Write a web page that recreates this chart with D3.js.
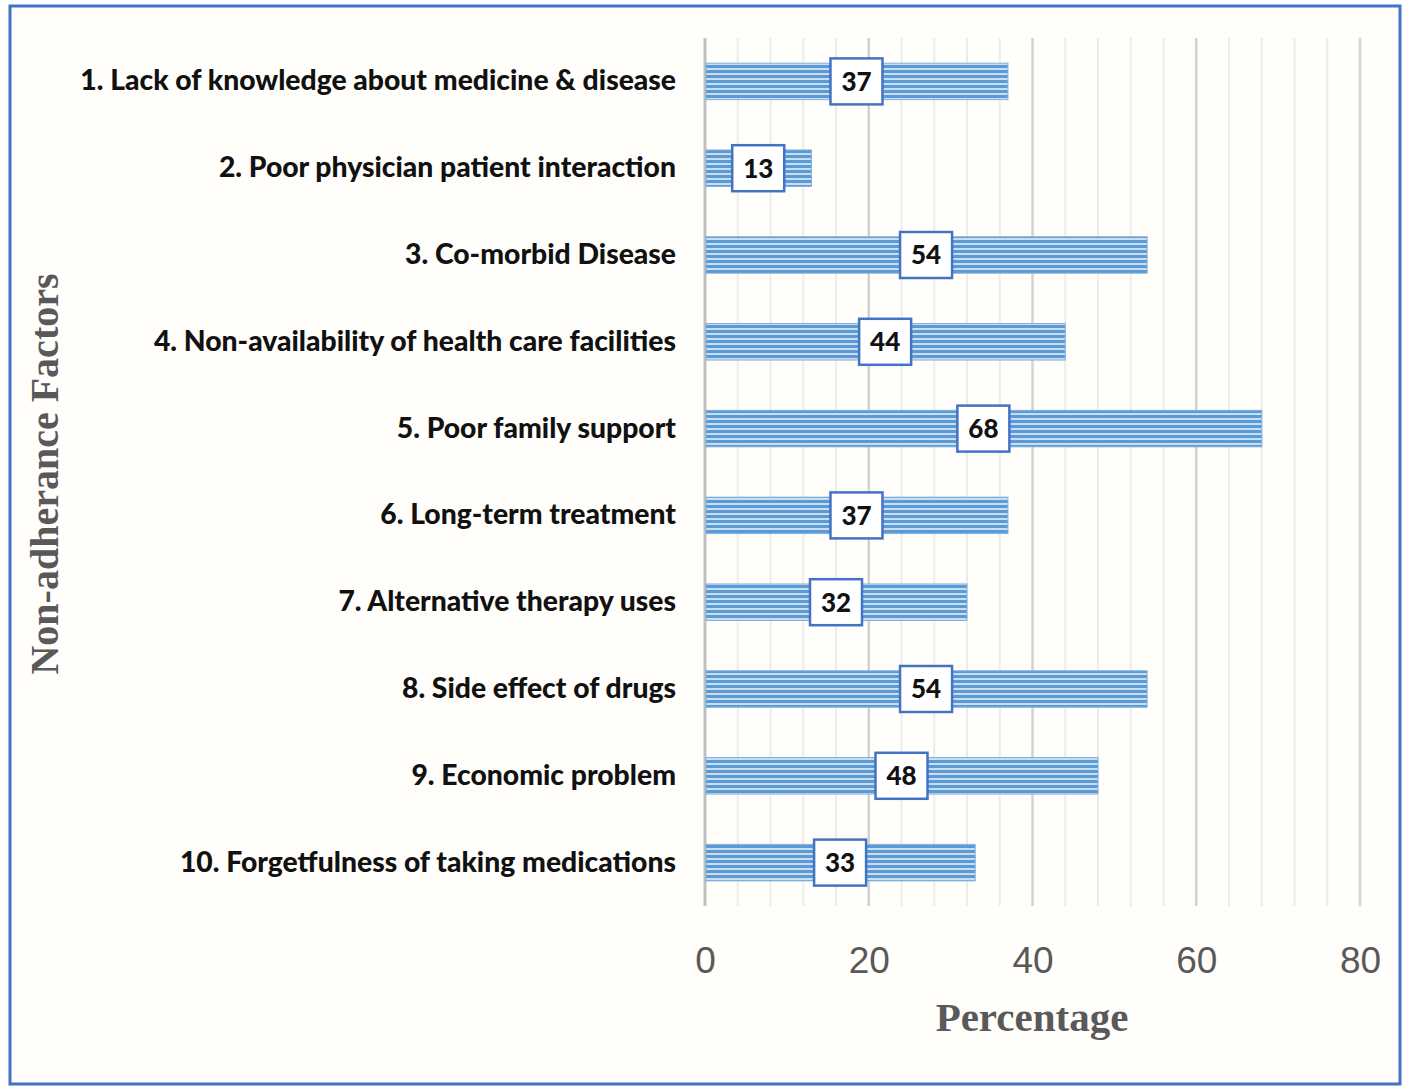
<!DOCTYPE html>
<html>
<head>
<meta charset="utf-8">
<script src="https://cdn.jsdelivr.net/npm/d3@7"></script>
<style>
  body { margin: 0; background: #fff; }
</style>
</head>
<body>
<div id="chart"></div>
<script>
// data
var categories = [
  "1. Lack of knowledge about medicine & disease",
  "2. Poor physician patient interaction",
  "3. Co-morbid Disease",
  "4. Non-availability of health care facilities",
  "5. Poor family support",
  "6. Long-term treatment",
  "7. Alternative therapy uses",
  "8. Side effect of drugs",
  "9. Economic problem",
  "10. Forgetfulness of taking medications"
];
var percentages = [37, 13, 54, 44, 68, 37, 32, 54, 48, 33];
var xTicks = [0, 20, 40, 60, 80];
var minorTicks = d3.range(4, 81, 4);

var W = 1405, H = 1088;

var svg = d3.select("#chart").append("svg")
  .attr("width", W)
  .attr("height", H);

// striped fill for the bars
var defs = svg.append("defs");
var pat = defs.append("pattern")
  .attr("id", "stripes")
  .attr("patternUnits", "userSpaceOnUse")
  .attr("width", 10)
  .attr("height", 5);
pat.append("rect").attr("width", 10).attr("height", 5).attr("fill", "#c9def2");
pat.append("rect").attr("width", 10).attr("height", 3).attr("fill", "#5b9bd5");

// frame
svg.append("rect")
  .attr("x", 10).attr("y", 6)
  .attr("width", 1390).attr("height", 1078)
  .attr("fill", "#fffefb")
  .attr("stroke", "#4472c4")
  .attr("stroke-width", 3);

// scales
var x = d3.scaleLinear()
  .domain([0, 80])
  .range([705, 1360]);

var y = d3.scaleBand()
  .domain(categories)
  .range([38, 906])
  .padding(0);

var barH = y.bandwidth() * 0.42;

// gridlines
svg.append("g")
  .selectAll("line")
  .data(minorTicks)
  .enter()
  .append("line")
    .attr("x1", function(d) { return x(d); })
    .attr("x2", function(d) { return x(d); })
    .attr("y1", 38)
    .attr("y2", 906)
    .attr("stroke", function(d) { return d % 20 === 0 ? "#d2d2d2" : "#ececec"; })
    .attr("stroke-width", function(d) { return d % 20 === 0 ? 2.5 : 2; });

// axis line at zero
svg.append("line")
  .attr("x1", x(0)).attr("x2", x(0))
  .attr("y1", 38).attr("y2", 906)
  .attr("stroke", "#bfbfbf")
  .attr("stroke-width", 3);

// bars
svg.append("g")
  .selectAll("rect")
  .data(percentages)
  .enter()
  .append("rect")
    .attr("x", x(0) + 1)
    .attr("y", function(d, i) { return y(categories[i]) + (y.bandwidth() - barH) / 2; })
    .attr("width", function(d) { return x(d) - x(0) - 1; })
    .attr("height", barH)
    .attr("fill", "url(#stripes)")
    .attr("stroke", "#7eb0de")
    .attr("stroke-width", 1);

// value labels
var lab = svg.append("g")
  .selectAll("g")
  .data(percentages)
  .enter()
  .append("g")
    .attr("transform", function(d, i) {
      return "translate(" + x(d / 2) + "," + (y(categories[i]) + y.bandwidth() / 2) + ")";
    });

lab.append("rect")
  .attr("x", -26).attr("y", -23)
  .attr("width", 52).attr("height", 46)
  .attr("fill", "#fff")
  .attr("stroke", "#4472c4")
  .attr("stroke-width", 2.5);

lab.append("text")
  .attr("text-anchor", "middle")
  .attr("dy", "0.36em")
  .style("font-family", "Lato, 'Open Sans', sans-serif")
  .style("font-weight", "900")
  .style("font-size", "26px")
  .attr("fill", "#111")
  .text(function(d) { return d; });

// category labels
var yAxis = svg.append("g")
  .attr("transform", "translate(705,0)")
  .call(d3.axisLeft(y).tickSize(0).tickPadding(29));
yAxis.select(".domain").remove();
yAxis.selectAll("text")
  .style("font-family", "Lato, 'Open Sans', sans-serif")
  .style("font-weight", "900")
  .style("font-size", "25px")
  .attr("fill", "#111");

// widen labels to the width they take in the picture (first label ~596px)
var firstW = yAxis.select(".tick text").node().getComputedTextLength();
var sc = 596 / firstW;
yAxis.selectAll("text").style("font-size", (25 * Math.min(sc, 1.15)) + "px");
var afterW = yAxis.select(".tick text").node().getComputedTextLength();
if (afterW < 590) {
  yAxis.selectAll("text").style("letter-spacing", ((596 - afterW) / 44) + "px");
}

// x axis tick labels
var xAxis = svg.append("g")
  .attr("transform", "translate(0,947)")
  .call(d3.axisBottom(x).tickValues(xTicks).tickSize(0).tickPadding(0));
xAxis.select(".domain").remove();
xAxis.selectAll("text")
  .style("font-family", "'Liberation Sans Narrow', 'Liberation Sans', sans-serif")
  .style("font-size", "37px")
  .attr("fill", "#595959");

// axis titles
svg.append("text")
  .attr("x", 1032)
  .attr("y", 1031)
  .attr("text-anchor", "middle")
  .style("font-family", "'Liberation Serif', 'DejaVu Serif', serif")
  .style("font-weight", "bold")
  .style("font-size", "41px")
  .attr("fill", "#595959")
  .text("Percentage");

svg.append("text")
  .attr("transform", "translate(58,474) rotate(-90)")
  .attr("text-anchor", "middle")
  .style("font-family", "'Liberation Serif', 'DejaVu Serif', serif")
  .style("font-weight", "bold")
  .style("font-size", "40px")
  .attr("fill", "#595959")
  .text("Non-adherance Factors");
</script>
</body>
</html>
